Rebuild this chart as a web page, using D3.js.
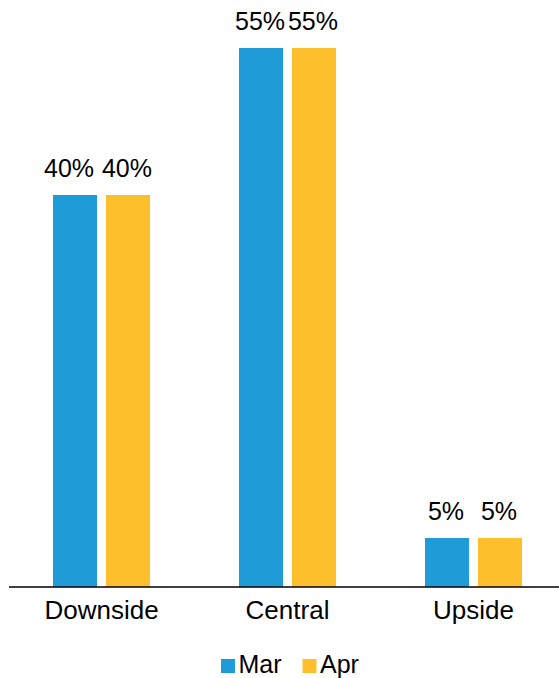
<!DOCTYPE html>
<html><head><meta charset="utf-8">
<script src="https://cdn.jsdelivr.net/npm/d3@7"></script>
<style>body{margin:0;background:#fff}svg{display:block}text{font-family:"Liberation Sans",Arial,sans-serif;fill:#000}</style>
</head><body>
<svg id="c" width="559" height="678"></svg>
<script>
const categories = ["Downside", "Central", "Upside"];
const seriesNames = ["Mar", "Apr"];
const marValues = [40, 55, 5];
const aprValues = [40, 55, 5];
const colors = ["#1f9bd7", "#fdbf2b"];

const svg = d3.select("#c");
const x0 = d3.scaleBand().domain(categories).range([8.5, 566.5]).padding(0);
const y = d3.scaleLinear().domain([0, 60]).range([587, -1]);
const groupW = 97;
const x1 = d3.scaleBand().domain(seriesNames).range([0, groupW]).paddingInner(0.1698).paddingOuter(0);
const color = d3.scaleOrdinal().domain(seriesNames).range(colors);
const FS = 26;

const data = categories.map((c, i) => ({cat: c, vals: [{s: "Mar", v: marValues[i], cat: c}, {s: "Apr", v: aprValues[i], cat: c}]}));

const g = svg.selectAll("g.grp").data(data).enter().append("g")
  .attr("transform", d => `translate(${x0(d.cat) + x0.bandwidth()/2 - groupW/2},0)`);

g.selectAll("rect").data(d => d.vals).enter().append("rect")
  .attr("x", d => x1(d.s)).attr("width", x1.bandwidth())
  .attr("y", d => y(d.v)).attr("height", d => y(0) - y(d.v))
  .attr("fill", d => color(d.s));

g.selectAll("text").data(d => d.vals).enter().append("text")
  .attr("x", d => x1(d.s) + x1.bandwidth()/2 - 1).attr("y", d => y(d.v) - 18)
  .attr("dx", d => (d.cat === "Downside" && d.s === "Mar") ? -5 : 0)
  .attr("text-anchor", "middle").attr("font-size", 25)
  .text(d => d.v + "%");

const axis = svg.append("g").attr("transform", `translate(0,${y(0)})`)
  .call(d3.axisBottom(x0).tickSize(0).tickPadding(13.5));
axis.select(".domain").remove();
axis.selectAll("text").attr("font-size", FS).attr("font-family", "'Liberation Sans',Arial,sans-serif").attr("fill", "#000");
svg.append("line").attr("x1", 9).attr("x2", 559).attr("y1", y(0)).attr("y2", y(0)).attr("stroke", "#000").attr("stroke-width", 1.5);

const legendX = [221, 302.5];
const lg = svg.selectAll("g.leg").data(seriesNames).enter().append("g")
  .attr("transform", (d, i) => `translate(${legendX[i]},659)`);
lg.append("rect").attr("width", 14).attr("height", 14).attr("fill", d => color(d));
lg.append("text").attr("x", 17.5).attr("y", 14.3).attr("font-size", 25).text(d => d);
</script>
</body></html>
